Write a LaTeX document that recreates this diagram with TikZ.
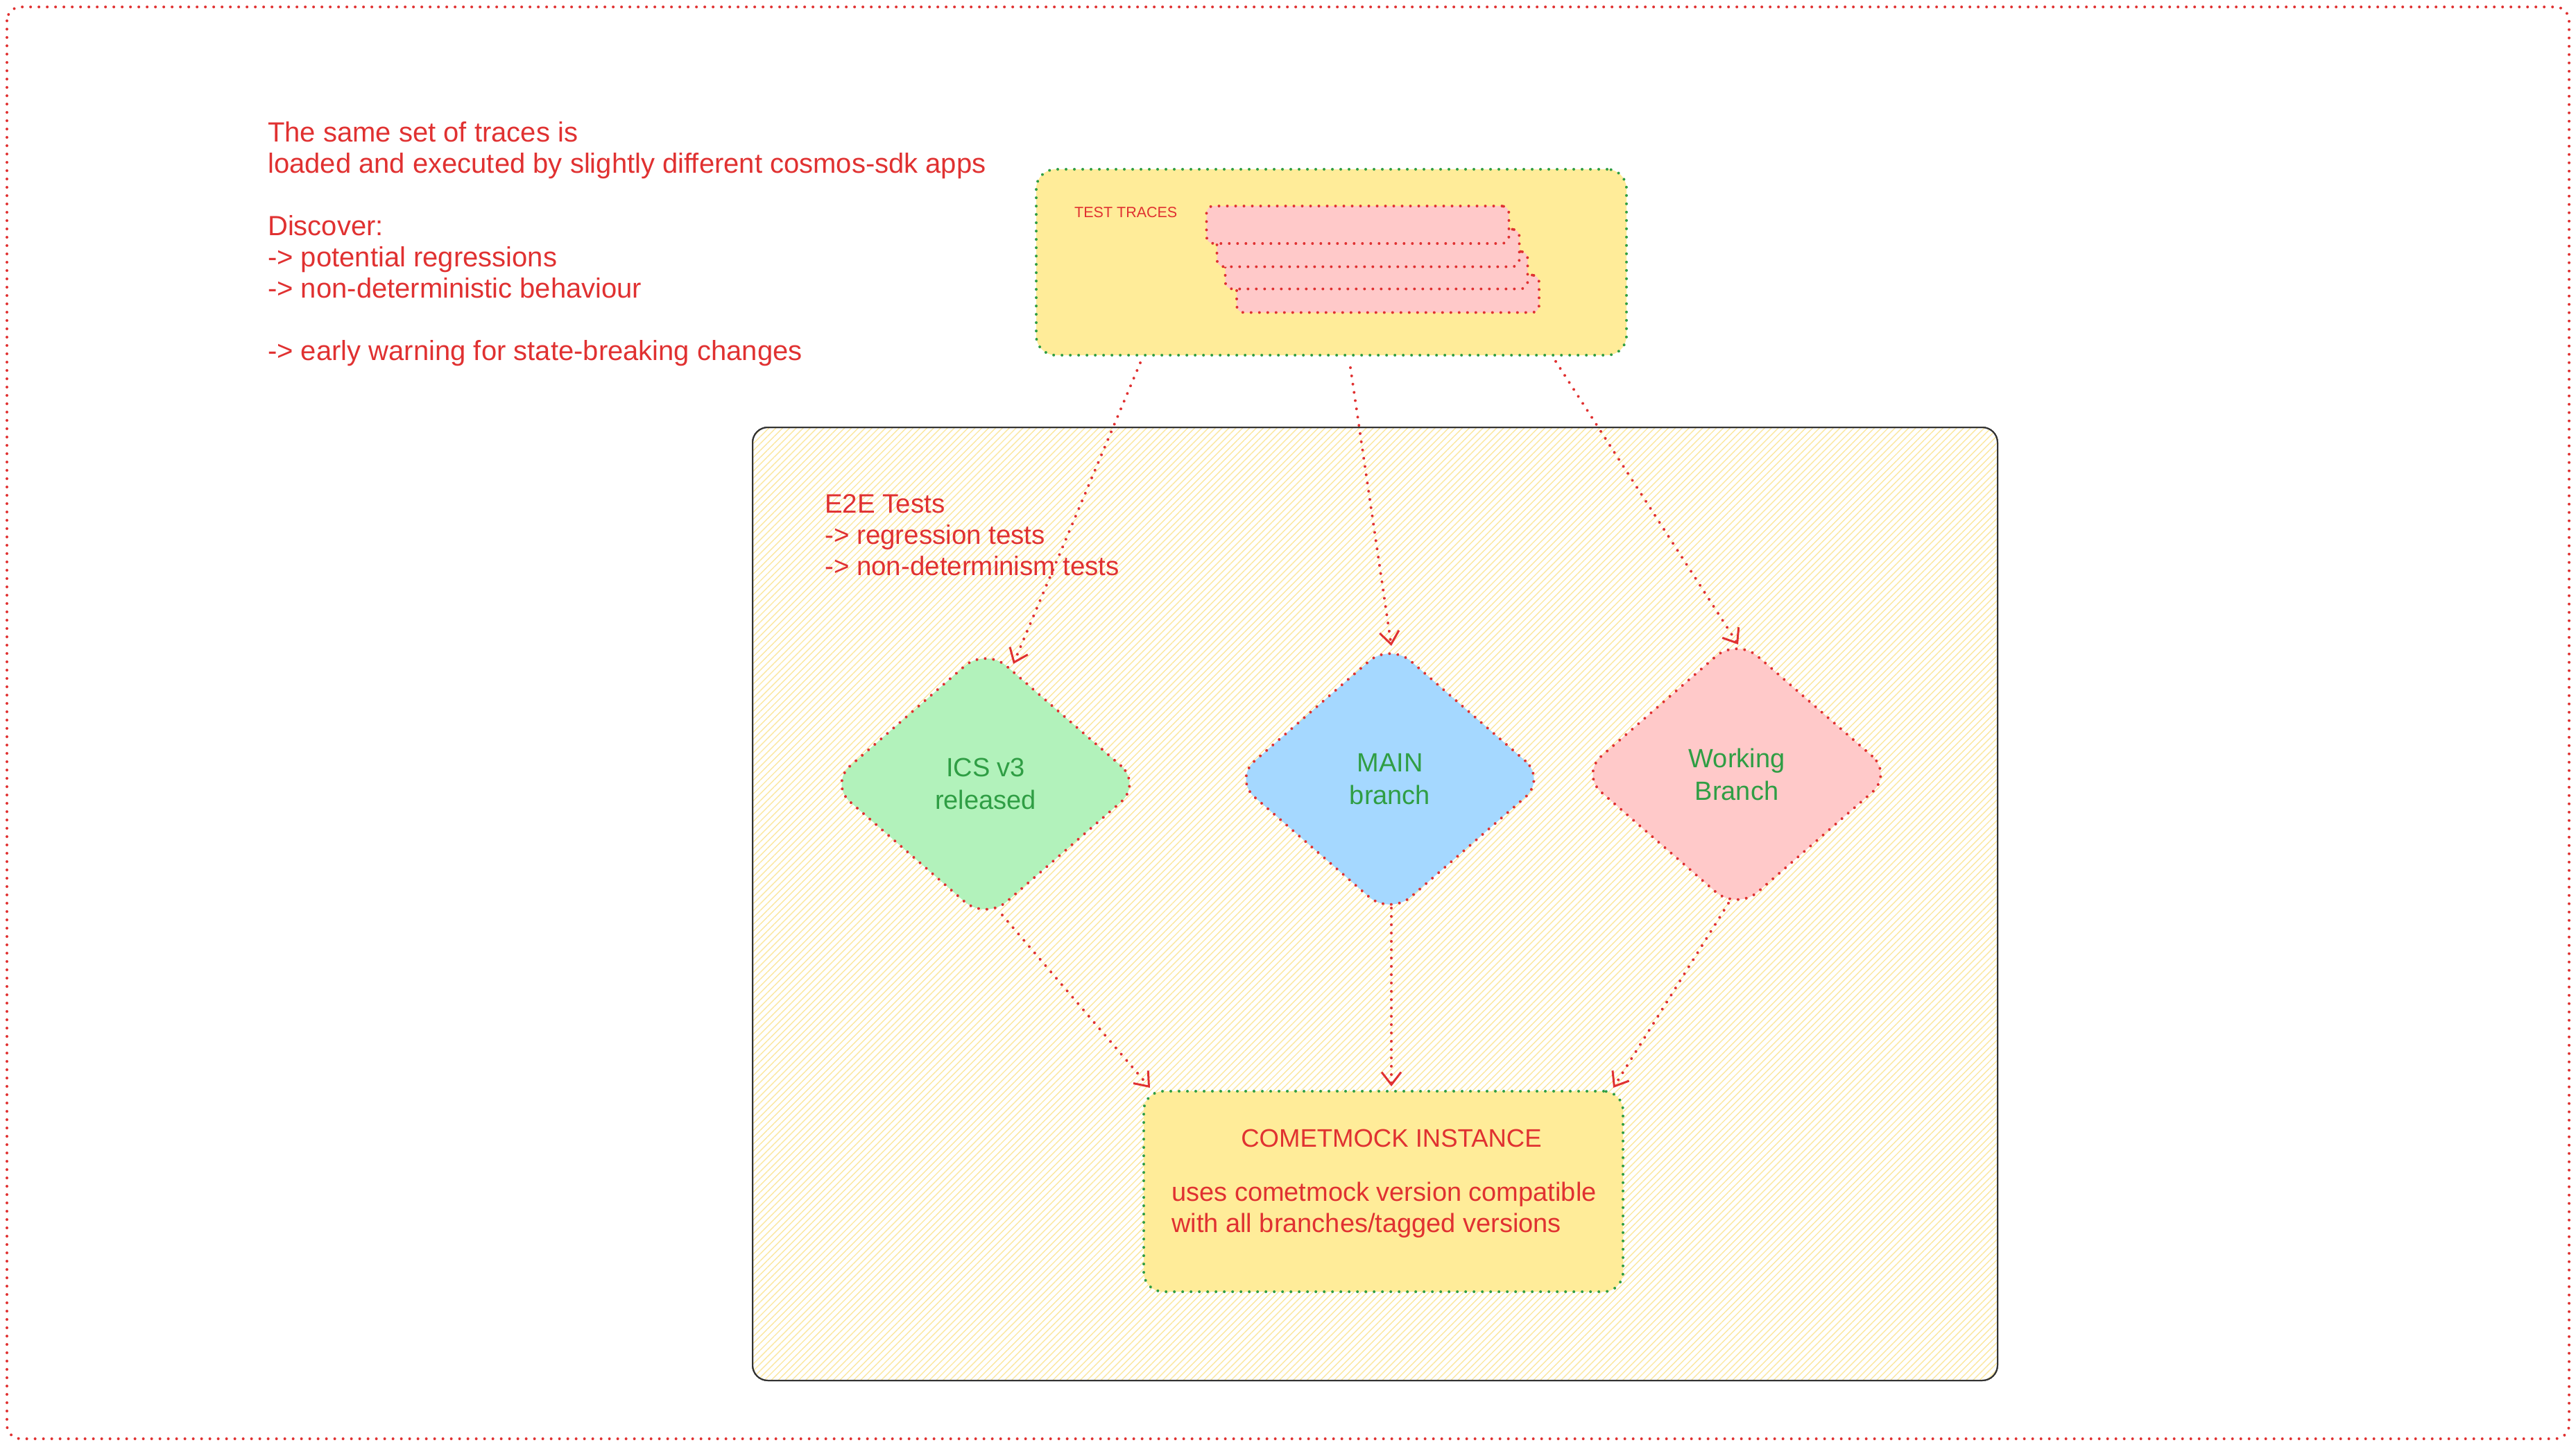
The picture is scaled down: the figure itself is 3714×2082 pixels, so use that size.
\documentclass[tikz,border=0pt]{standalone}
\usepackage{fontspec}
\setmainfont{Liberation Sans}
\usetikzlibrary{shapes.geometric,arrows.meta,patterns.meta,calc}
\definecolor{exred}{HTML}{E03131}
\definecolor{exgreen}{HTML}{2F9E44}
\definecolor{exyellow}{HTML}{FFEC99}
\definecolor{expink}{HTML}{FFC9C9}
\definecolor{exlgreen}{HTML}{B2F2BB}
\definecolor{exblue}{HTML}{A5D8FF}
\definecolor{hatch}{HTML}{FBE7A0}
\tikzset{
  dotline/.style={line width=4pt, line cap=round, dash pattern=on 0pt off 12pt},
  redbox/.style={dotline, draw=exred},
  greenbox/.style={dotline, draw=exgreen},
  txt/.style={inner sep=0pt, align=left, anchor=north west, text=exred, font=\fontsize{40}{45}\selectfont},
  decision/.style={diamond, redbox, minimum width=452pt, minimum height=394pt, inner sep=0pt,
     rounded corners=40pt, align=center, text=exgreen, font=\fontsize{38}{47}\selectfont},
  flow/.style={dotline, draw=exred, -{Straight Barb[length=18pt,width=28pt,line width=3pt]}},
  trace/.style={redbox, fill=expink, rounded corners=10pt, minimum width=436pt, minimum height=54pt, inner sep=0pt}
}
\begin{document}
\begin{tikzpicture}[x=1pt,y=-1pt]
\useasboundingbox (0,0) rectangle (3714,2082);
% outer frame
\draw[redbox, rounded corners=20pt] (10,10) rectangle (3704,2074);
% intro text
\node[txt] (intro) at (386,175) {The same set of traces is\\
loaded and executed by slightly different cosmos-sdk apps\\[45pt]
Discover:\\
-> potential regressions\\
-> non-deterministic behaviour\\[45pt]
-> early warning for state-breaking changes};
% test traces box
\node[greenbox, fill=exyellow, rounded corners=28pt, minimum width=851pt, minimum height=268pt] (traces) at (1919.5,378) {};
\node[trace] (tr4) at (2001,423.5) {};
\node[trace] (tr3) at (1984.5,389.5) {};
\node[trace] (tr2) at (1972.5,357.5) {};
\node[trace] (tr1) at (1957.5,324) {};
\node[inner sep=0pt, anchor=west, text=exred, font=\fontsize{21.5}{24}\selectfont] (trlabel) at (1549,306) {TEST TRACES};
% E2E box
\draw[line width=2pt, draw=black!80, rounded corners=22pt, fill=white,
      pattern={Lines[angle=45,distance=7pt,line width=1.4pt]}, pattern color=hatch]
      (1085,616) rectangle (2880,1990);
\node[draw=black!80, line width=2pt, rounded corners=22pt, minimum width=1795pt, minimum height=1374pt] (e2e) at (1982.5,1303) {};
\node[txt, font=\fontsize{38.5}{45}\selectfont] (e2etxt) at (1189,712) {E2E Tests\\
-> regression tests\\
-> non-determinism tests};
% diamonds
\node[decision, fill=exlgreen] (ics) at (1421,1130) {ICS v3\\released};
\node[decision, fill=exblue] (main) at (2004,1123) {MAIN\\branch};
\node[decision, fill=expink] (work) at (2504,1116) {Working\\Branch};
% cometmock box
\node[greenbox, fill=exyellow, rounded corners=28pt, minimum width=691pt, minimum height=289pt] (cm) at (1994.5,1717.5) {};
\node[inner sep=0pt, text=exred, font=\fontsize{36.5}{40}\selectfont] (cmtitle) at (2006,1641) {COMETMOCK INSTANCE};
\node[txt, font=\fontsize{38}{45}\selectfont] (cmbody) at (1689,1704) {uses cometmock version compatible\\
with all branches/tagged versions};
% connectors
\draw[flow] ([xshift=-275.5pt,yshift=-9pt]traces.south) -- ([xshift=40pt,yshift=-26pt]ics.north);
\draw[flow] ([xshift=27.5pt,yshift=-16pt]traces.south) -- ([xshift=2pt,yshift=-7pt]main.north);
\draw[flow] ([xshift=323.5pt,yshift=-7pt]traces.south) -- ([xshift=2pt,yshift=-12pt]work.north);
\draw[flow] ([xshift=24pt,yshift=10pt]ics.south) -- ([xshift=-336.5pt,yshift=3pt]cm.north);
\draw[flow] ([xshift=2pt,yshift=13pt]main.south) -- ([xshift=11.5pt,yshift=5pt]cm.north);
\draw[flow] ([xshift=-12pt,yshift=13pt]work.south) -- ([xshift=331.5pt,yshift=3pt]cm.north);
\end{tikzpicture}
\end{document}
